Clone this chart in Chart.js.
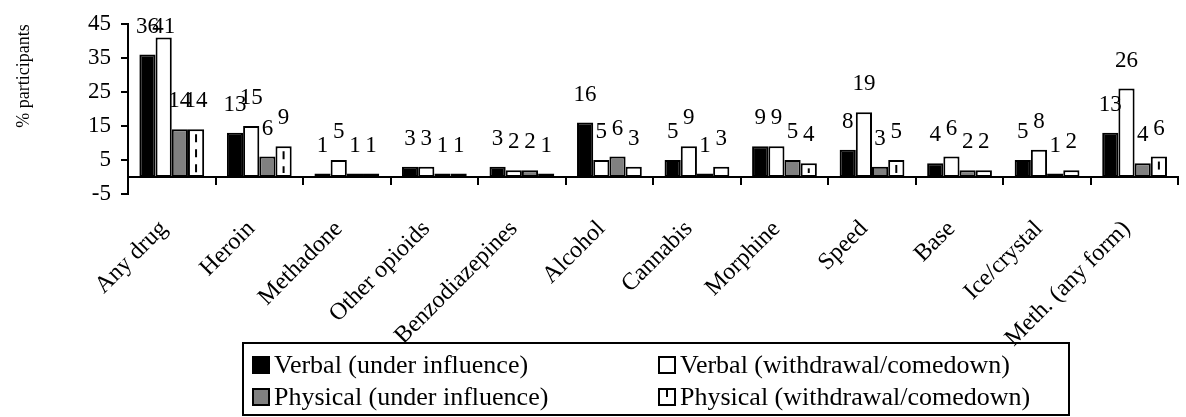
<!DOCTYPE html>
<html>
<head>
<meta charset="utf-8">
<script src="https://cdn.jsdelivr.net/npm/chart.js@4.4.1/dist/chart.umd.min.js"></script>
<style>
  html, body { margin: 0; padding: 0; background: #fff; }
  #wrap { width: 1186px; height: 417px; position: relative; }
</style>
</head>
<body>
<div id="wrap"><canvas id="chart"></canvas></div>
<script>
const categories = ['Any drug', 'Heroin', 'Methadone', 'Other opioids', 'Benzodiazepines', 'Alcohol',
  'Cannabis', 'Morphine', 'Speed', 'Base', 'Ice/crystal', 'Meth. (any form)'];
const verbalUnder = [36, 13, 1, 3, 3, 16, 5, 9, 8, 4, 5, 13];
const verbalWithdrawal = [41, 15, 5, 3, 2, 5, 9, 9, 19, 6, 8, 26];
const physicalUnder = [14, 6, 1, 1, 2, 6, 1, 5, 3, 2, 1, 4];
const physicalWithdrawal = [14, 9, 1, 1, 1, 3, 3, 4, 5, 2, 2, 6];
const seriesNames = ['Verbal (under influence)', 'Verbal (withdrawal/comedown)',
  'Physical (under influence)', 'Physical (withdrawal/comedown)'];
const yTicks = { min: -5, max: 45, step: 10 };

const FONT = "'Liberation Serif', 'Times New Roman', serif";
const fills = ['#000000', '#ffffff', '#808080', '#ffffff'];

// value labels above each bar (Excel style)
const valueLabels = {
  id: 'valueLabels',
  afterDatasetsDraw(chart) {
    const ctx = chart.ctx;
    const top = chart.chartArea.top;
    ctx.save();
    ctx.font = '23px ' + FONT;
    ctx.fillStyle = '#000';
    ctx.textAlign = 'center';
    ctx.textBaseline = 'middle';
    chart.data.datasets.forEach((ds, i) => {
      chart.getDatasetMeta(i).data.forEach((bar, j) => {
        const y = Math.max(bar.y - 28, top + 3);
        ctx.fillText(String(ds.data[j]), bar.x, y);
      });
    });
    ctx.restore();
  }
};

// dashed centre line on the "physical withdrawal" bars
const dashedBars = {
  id: 'dashedBars',
  afterDatasetsDraw(chart) {
    const ctx = chart.ctx;
    const meta = chart.getDatasetMeta(3);
    ctx.save();
    ctx.strokeStyle = '#000';
    ctx.lineWidth = 2;
    ctx.setLineDash([8, 7]);
    meta.data.forEach(bar => {
      const y1 = bar.y + 5, y2 = bar.base - 4;
      if (y2 - y1 < 2) return;
      ctx.beginPath();
      ctx.moveTo(bar.x, y1);
      ctx.lineTo(bar.x, y2);
      ctx.stroke();
    });
    ctx.restore();
  }
};

// y title and boxed legend
const extras = {
  id: 'extras',
  afterDraw(chart) {
    const ctx = chart.ctx;
    ctx.save();
    ctx.fillStyle = '#000';
    ctx.font = '18px ' + FONT;
    ctx.translate(24, 76);
    ctx.rotate(-Math.PI / 2);
    ctx.textAlign = 'center';
    ctx.textBaseline = 'middle';
    ctx.fillText('% participants', 0, 0);
    ctx.restore();

    ctx.save();
    ctx.strokeStyle = '#000';
    ctx.lineWidth = 2;
    ctx.strokeRect(243, 343, 826, 72);
    ctx.font = '26px ' + FONT;
    ctx.textBaseline = 'middle';
    ctx.textAlign = 'left';
    const cols = [252, 658], rows = [365, 397];
    seriesNames.forEach((name, i) => {
      const x = cols[i % 2], y = rows[Math.floor(i / 2)];
      ctx.fillStyle = fills[i];
      ctx.fillRect(x, y - 9, 18, 18);
      ctx.lineWidth = 2;
      ctx.strokeStyle = '#000';
      ctx.strokeRect(x + 1, y - 8, 16, 16);
      if (i === 3) {
        ctx.beginPath();
        ctx.moveTo(x + 9, y - 7);
        ctx.lineTo(x + 9, y);
        ctx.stroke();
      }
      ctx.fillStyle = '#000';
      ctx.fillText(name, x + 22, y + 1);
    });
    ctx.restore();
  }
};

const datasets = [verbalUnder, verbalWithdrawal, physicalUnder, physicalWithdrawal].map((d, i) => ({
  label: seriesNames[i],
  data: d,
  backgroundColor: fills[i],
  borderColor: '#000',
  borderWidth: 2,
  borderSkipped: false,
  barPercentage: 1,
  categoryPercentage: 0.74
}));

new Chart(document.getElementById('chart'), {
  type: 'bar',
  data: { labels: categories, datasets: datasets },
  options: {
    responsive: true,
    maintainAspectRatio: false,
    animation: false,
    layout: { padding: { top: 19, right: 1, bottom: 223, left: 0 } },
    plugins: {
      legend: { display: false },
      tooltip: { enabled: false }
    },
    scales: {
      x: {
        position: { y: 0 },
        afterFit: s => { s.height = 0; },
        grid: { drawOnChartArea: false, drawTicks: true, tickLength: 7, color: '#000', lineWidth: 2, offset: true },
        border: { display: true, color: '#000', width: 2 },
        ticks: {
          autoSkip: false, minRotation: 45, maxRotation: 45, padding: 31, labelOffset: -8,
          color: '#000', font: { family: FONT, size: 24 }
        }
      },
      y: {
        min: yTicks.min,
        max: yTicks.max,
        afterFit: s => { s.width = 128; },
        grid: { drawOnChartArea: false, drawTicks: true, tickLength: 7, color: '#000', lineWidth: 2 },
        border: { display: true, color: '#000', width: 2 },
        ticks: {
          stepSize: yTicks.step, padding: 10,
          color: '#000', font: { family: FONT, size: 23 }
        }
      }
    }
  },
  plugins: [valueLabels, dashedBars, extras]
});
</script>
</body>
</html>
